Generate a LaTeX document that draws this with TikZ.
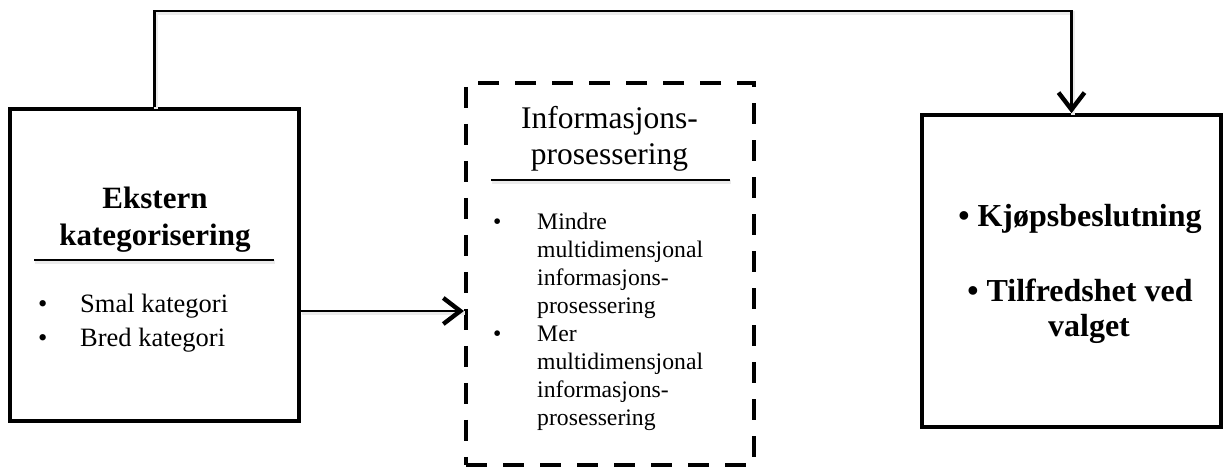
\documentclass[tikz,border=0pt]{standalone}
\usepackage{fontspec}
\setmainfont{Liberation Serif}
\usetikzlibrary{arrows.meta}
\begin{document}
\begin{tikzpicture}[x=1pt,y=1pt,
  box/.style={draw, line width=3.6pt, inner sep=0pt},
  dashbox/.style={draw, line width=4.2pt, dash pattern=on 21pt off 16pt, inner sep=0pt},
  tip/.style={-{Straight Barb[length=17pt, width=26pt, line width=2pt 1]}},
  shade/.style={preaction={draw=black!8, line width=4pt, -, transform canvas={shift={(1pt,-2pt)}}}},
  conn/.style={draw, line width=2.4pt, shade, tip},
  rule/.style={draw, line width=2.4pt, shade},
  titlebf/.style={font=\bfseries\fontsize{31}{37}\selectfont, align=center, inner sep=0pt},
  titlerm/.style={font=\fontsize{31.5}{36}\selectfont, align=center, inner sep=0pt},
  listbig/.style={font=\fontsize{26.5}{34}\selectfont, inner sep=0pt, anchor=base west},
  listsmall/.style={font=\fontsize{23.7}{28}\selectfont, inner sep=0pt, anchor=base west},
  outbf/.style={font=\bfseries\fontsize{32}{35}\selectfont, inner sep=0pt, anchor=base}]
\useasboundingbox (0,0) rectangle (1223,468);

% the three boxes
\node[box, minimum width=289pt, minimum height=312pt] (ext) at (154.5,203) {};
\node[dashbox, minimum width=288pt, minimum height=382pt] (info) at (610,194) {};
\node[box, minimum width=299pt, minimum height=312pt] (dec) at (1071.5,197) {};

% external categorisation
\node[titlebf] (extT) at (155,248) {Ekstern\\kategorisering};
\draw[rule] (34,208) -- (274,208);
\node[listbig] (extL) at (38,155)
  {\begin{tabular}[t]{@{}p{42pt}@{}l@{}}•&Smal kategori\\•&Bred kategori\end{tabular}};

% information processing
\node[titlerm] (infoT) at (609.5,329) {Informasjons-\\prosessering};
\draw[rule] (491,288) -- (730,288);
\node[listsmall] (infoL) at (493,238)
  {\begin{tabular}[t]{@{}p{44pt}@{}l@{}}
   •&Mindre\\ &multidimensjonal\\ &informasjons-\\ &prosessering\\
   •&Mer\\ &multidimensjonal\\ &informasjons-\\ &prosessering
   \end{tabular}};

% outcomes
\node[outbf] (d1) at (1080,241) {• Kjøpsbeslutning};
\node[outbf] (d2) at (1080,166) {• Tilfredshet ved};
\node[outbf] (d3) at (1089,131) {valget};

% connectors
\draw[conn] (ext.north) -- ++(0,96) -| (dec.north);
\draw[conn] ([yshift=-46pt]ext.east) -- ([yshift=-46pt]ext.east -| info.west);
\end{tikzpicture}
\end{document}
